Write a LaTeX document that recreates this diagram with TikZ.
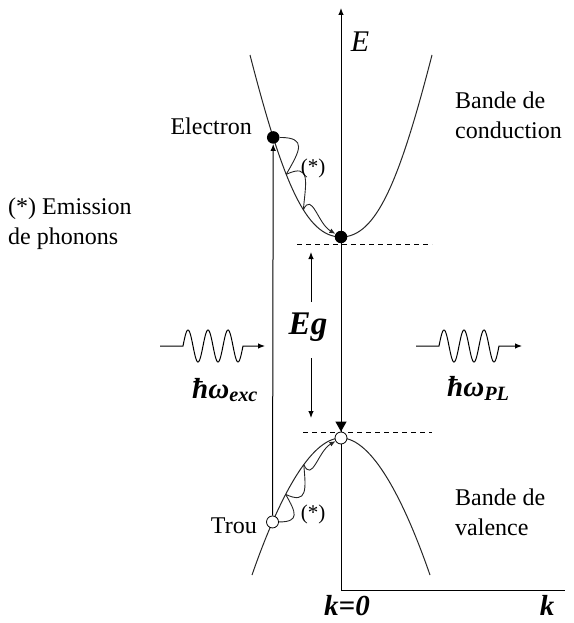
\documentclass[tikz,border=0pt]{standalone}
\usepackage{fontspec}
\setmainfont{Liberation Serif}
\usetikzlibrary{arrows.meta, positioning}

\begin{document}
\begin{tikzpicture}[
  x=1pt, y=1pt,
  band/.style={line width=1pt, draw=black!85},
  dot/.style={circle, fill=black, inner sep=0pt, minimum size=12.5pt},
  hole/.style={circle, draw=black, fill=white, line width=0.8pt,
               inner sep=0pt, minimum size=12pt},
  arrow/.style={-{Latex[length=7pt, width=5.5pt]}, line width=1pt},
  phonon/.style={line width=0.9pt, draw=black!85},
  phtip/.style={-{Latex[length=6pt, width=5pt]}},
  gap/.style={dash pattern=on 5pt off 4pt, line width=0.8pt},
  txt/.style={font=\fontsize{24}{30}\selectfont, align=left, inner sep=0pt},
  sym/.style={font=\fontsize{29}{32}\selectfont\bfseries\itshape, inner sep=0pt},
  star/.style={font=\fontsize{21}{24}\selectfont, inner sep=0pt}
]
\useasboundingbox (0,0) rectangle (573,-623);

% ==================== AXES ====================
\coordinate (origin) at (341,-590);
\coordinate (etop) at (341,-8);
\coordinate (kend) at (565,-590);
\draw[arrow] (origin) -- (etop);
\draw[line width=1pt] (origin) -- (kend);
\node[font=\fontsize{30}{32}\selectfont\itshape, inner sep=0pt] (elabel) at (360,-42) {E};
\node[sym] (k0) at (347,-606) {k=0};
\node[sym] (klabel) at (547,-605) {k};

% ==================== BANDS ====================
\coordinate (cl) at (250,-55);
\coordinate (cmin) at (341,-237);
\coordinate (cr) at (432,-55);
\draw[band] (cl) .. controls (283,-183) and (306,-237) .. (cmin)
  coordinate[pos=0.25] (ce) coordinate[pos=0.4] (cp1) coordinate[pos=0.6] (cp2)
  .. controls (376,-237) and (399,-183) .. (cr);

\coordinate (vl) at (252,-575);
\coordinate (vmax) at (341,-438);
\coordinate (vr) at (430,-575);
\draw[band] (vl) .. controls (278,-500) and (310,-438) .. (vmax)
  coordinate[pos=0.25] (ve) coordinate[pos=0.4] (vp1) coordinate[pos=0.6] (vp2)
  .. controls (372,-438) and (404,-500) .. (vr);

% gap levels
\coordinate (cgl) at (297,-244);
\coordinate (cgr) at (432,-244);
\coordinate (vgl) at (303,-432);
\coordinate (vgr) at (432,-432);
\draw[gap] (cgl) -- (cgr);
\draw[gap] (vgl) -- (vgr);

% ==================== CARRIERS ====================
\node[dot] (electron) at (ce) {};
\node[dot] (cbot) at (cmin) {};
\node[hole] (trou) at (ve) {};
\node[hole] (vtop) at (vmax) {};

\draw[arrow] (trou) -- (electron);
\draw[-{Triangle[length=10pt, width=11pt]}, line width=1pt] (cbot) -- (vtop);

% phonon emission
\draw[phonon] (electron) to[out=0, in=60, looseness=1.9] (cp1);
\draw[phonon] (cp1) to[out=25, in=85, looseness=1.8] (cp2);
\draw[phonon, phtip] (cp2) to[out=65, in=150, looseness=1.3] (cbot);

\draw[phonon] (trou) to[out=0, in=-60, looseness=1.9] (vp1);
\draw[phonon] (vp1) to[out=-25, in=-85, looseness=1.8] (vp2);
\draw[phonon, phtip] (vp2) to[out=-65, in=-150, looseness=1.3] (vtop);

\node[star] (cstar) at (313,-168) {(*)};
\node[star] (vstar) at (313,-514) {(*)};

% ==================== GAP ====================
\node[sym, font=\fontsize{33}{36}\selectfont\bfseries\itshape] (eg) at (308,-327) {Eg};
\coordinate (egup) at (311,-302);
\coordinate (egtop) at (311,-252);
\coordinate (egdown) at (311,-358);
\coordinate (egbot) at (311,-418);
\draw[arrow] (egup) -- (egtop);
\draw[arrow] (egdown) -- (egbot);

% ==================== PHOTONS ====================
\coordinate (exin) at (160,-346);
\coordinate (exout) at (265,-346);
\draw[arrow] (exin) -- (183,-346)
  -- plot[domain=183:243, samples=90] (\x, {-346+16*sin(18*(\x-183))}) -- (exout);

\coordinate (plin) at (416,-346);
\coordinate (plout) at (522,-346);
\draw[arrow] (plin) -- (439,-346)
  -- plot[domain=439:499, samples=90] (\x, {-346+16*sin(18*(\x-439))}) -- (plout);

\node[sym, anchor=base west] (hwexc) at (192,-398) {ħω\textsubscript{exc}};
\node[sym, anchor=base west] (hwpl) at (447,-396) {ħω\textsubscript{PL}};

% ==================== LABELS ====================
\node[txt, anchor=base east] (electronlbl) at (252,-135) {Electron};
\node[txt, anchor=base east] (troulbl) at (257,-533) {Trou};
\node[txt, anchor=north west] (cbandlbl) at (455,-92) {Bande de\\conduction};
\node[txt, anchor=north west] (vbandlbl) at (455,-489) {Bande de\\valence};
\node[txt, anchor=north west] (phononlbl) at (8,-198) {(*) Emission\\de phonons};

\end{tikzpicture}
\end{document}
